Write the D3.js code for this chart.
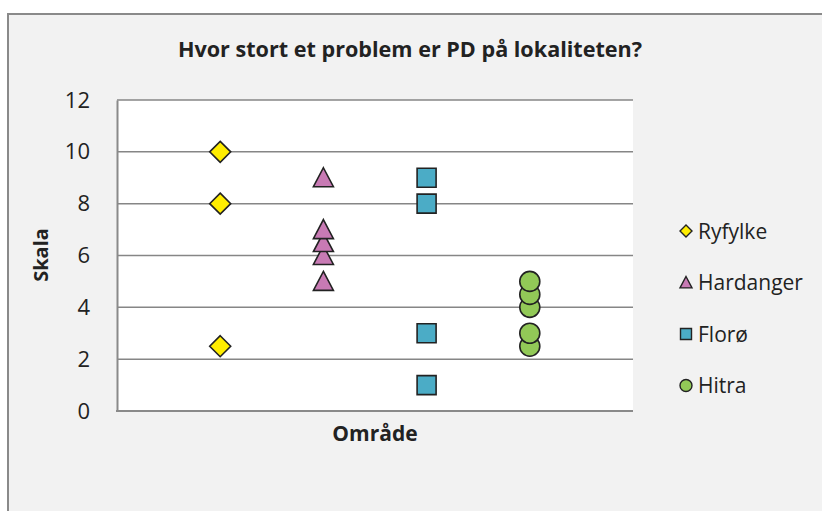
<!DOCTYPE html>
<html lang="en">
<head>
    <meta charset="utf-8">
    <title>Hvor stort et problem er PD på lokaliteten?</title>
    <script src="https://d3js.org/d3.v7.min.js"></script>
    <style type="text/css">
        body { margin: 0; background: #fff; }
        text { font-family: "Open Sans", "Noto Sans", sans-serif; fill: #222; }
    </style>
</head>
<body>
    <script type="text/javascript">

        // chart size
        var w = 822;
        var h = 511;

        // data (values listed low to high, the way they are stacked)
        var seriesNames = ["Ryfylke", "Hardanger", "Florø", "Hitra"];
        var ryfylke = [2.5, 8, 10];
        var hardanger = [5, 6, 6.5, 7, 9];
        var floro = [1, 3, 8, 9];
        var hitra = [2.5, 3, 4, 4.5, 5];
        var yTicks = [0, 2, 4, 6, 8, 10, 12];

        var seriesValues = [ryfylke, hardanger, floro, hitra];
        var colors = ["#ffed00", "#c87ab4", "#4bacc6", "#92c957"];

        // marker shapes, sized by full width in px
        var diamond = {
            draw: function (ctx, s) {
                var r = s / 2;
                ctx.moveTo(0, -r); ctx.lineTo(r, 0); ctx.lineTo(0, r); ctx.lineTo(-r, 0); ctx.closePath();
            }
        };
        var triangle = {
            draw: function (ctx, s) {
                var r = s / 2;
                ctx.moveTo(0, -r); ctx.lineTo(r, r * 0.9); ctx.lineTo(-r, r * 0.9); ctx.closePath();
            }
        };
        var square = {
            draw: function (ctx, s) {
                var r = s / 2;
                ctx.rect(-r, -r, s, s);
            }
        };
        var circle = {
            draw: function (ctx, s) {
                var r = s / 2;
                ctx.moveTo(r, 0); ctx.arc(0, 0, r, 0, 2 * Math.PI);
            }
        };
        var shapes = [diamond, triangle, square, circle];
        var sizes = [21, 20, 19, 20];
        var legendSizes = [12, 12, 11, 12];

        var plot = { left: 117, right: 633, top: 100, bottom: 411 };

        var x = d3.scaleLinear().domain([0, 5]).range([plot.left, plot.right]);
        var y = d3.scaleLinear().domain([0, 12]).range([plot.bottom, plot.top]);

        var svg = d3.select("body")
            .append("svg")
            .attr("width", w)
            .attr("height", h);

        // outer chart frame
        svg.append("rect")
            .attr("x", 8).attr("y", 14)
            .attr("width", w).attr("height", h)
            .attr("fill", "#f2f2f2")
            .attr("stroke", "#8a8a8a")
            .attr("stroke-width", 2);

        // plot area
        svg.append("rect")
            .attr("x", plot.left).attr("y", plot.top)
            .attr("width", plot.right - plot.left)
            .attr("height", plot.bottom - plot.top)
            .attr("fill", "#fff");

        // gridlines
        svg.append("g")
            .selectAll("line")
            .data(yTicks.filter(function (d) { return d > 0; }))
            .enter()
            .append("line")
            .attr("x1", plot.left).attr("x2", plot.right)
            .attr("y1", function (d) { return y(d); })
            .attr("y2", function (d) { return y(d); })
            .attr("stroke", "#868686")
            .attr("stroke-width", 1.5);

        // y axis
        var yAxis = svg.append("g")
            .attr("transform", "translate(" + plot.left + ",0)")
            .call(d3.axisLeft(y).tickValues(yTicks).tickSize(0).tickPadding(27));
        yAxis.select(".domain").attr("stroke", "#8a8a8a").attr("stroke-width", 2);
        yAxis.selectAll("text")
            .attr("font-size", "22px")
            .attr("font-family", "Open Sans, sans-serif")
            .attr("fill", "#222");

        // x axis line
        svg.append("line")
            .attr("x1", plot.left - 1).attr("x2", plot.right)
            .attr("y1", plot.bottom).attr("y2", plot.bottom)
            .attr("stroke", "#8a8a8a")
            .attr("stroke-width", 2);

        // points
        seriesValues.forEach(function (vals, i) {
            svg.append("g")
                .selectAll("path")
                .data(vals)
                .enter()
                .append("path")
                .attr("d", d3.symbol().type(shapes[i]).size(sizes[i]))
                .attr("transform", function (d) {
                    return "translate(" + x(i + 1) + "," + y(d) + ")";
                })
                .attr("fill", colors[i])
                .attr("stroke", "#222")
                .attr("stroke-width", 1.6);
        });

        // title
        svg.append("text")
            .attr("x", 410).attr("y", 57)
            .attr("text-anchor", "middle")
            .attr("font-size", "21.6px")
            .attr("font-weight", "bold")
            .text("Hvor stort et problem er PD på lokaliteten?");

        // axis titles
        svg.append("text")
            .attr("transform", "translate(48,255) rotate(-90)")
            .attr("text-anchor", "middle")
            .attr("font-size", "20px")
            .attr("font-weight", "bold")
            .text("Skala");

        svg.append("text")
            .attr("x", 375).attr("y", 441)
            .attr("text-anchor", "middle")
            .attr("font-size", "21px")
            .attr("font-weight", "bold")
            .text("Område");

        // legend
        var legend = svg.append("g")
            .selectAll("g")
            .data(seriesNames)
            .enter()
            .append("g")
            .attr("transform", function (d, i) {
                return "translate(686," + (231 + i * 51.5) + ")";
            });
        legend.append("path")
            .attr("d", function (d, i) {
                return d3.symbol().type(shapes[i]).size(legendSizes[i])();
            })
            .attr("fill", function (d, i) { return colors[i]; })
            .attr("stroke", "#222")
            .attr("stroke-width", 1.4);
        legend.append("text")
            .attr("x", 12)
            .attr("y", 7.5)
            .attr("font-size", "21px")
            .text(function (d) { return d; });

    </script>
</body>
</html>
